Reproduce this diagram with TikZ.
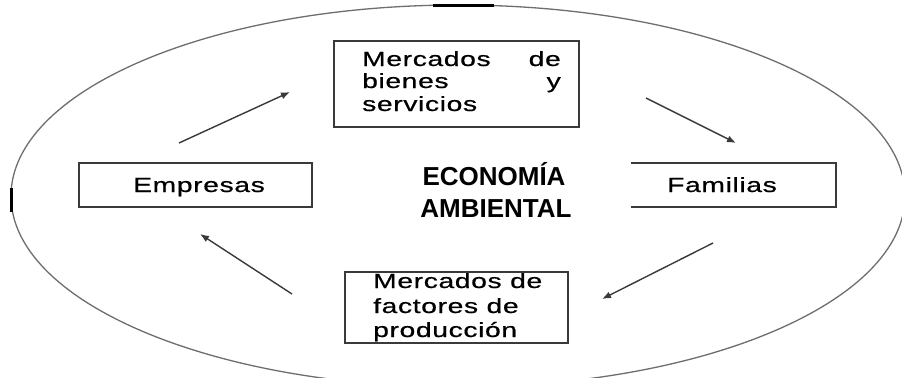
\documentclass[tikz,border=0pt]{standalone}
\usepackage{fontspec}
\setmainfont{Liberation Sans}
\newfontfamily\boxfont[FakeStretch=1.38,LetterSpace=3,FakeBold=0.6]{Liberation Sans}
\usetikzlibrary{arrows.meta}
\definecolor{linegray}{HTML}{3A3A3A}
\definecolor{ellgray}{HTML}{6E6E6E}
\tikzset{
  boxshape/.style={draw=linegray, line width=1.5bp, rectangle, inner sep=0pt},
  lbl/.style={font=\boxfont\fontsize{20.5bp}{23bp}\selectfont, inner sep=0pt, anchor=base west},
  flow/.style={draw=linegray, line width=1.4bp, -{Latex[length=9bp,width=7bp]}},
  title/.style={font=\bfseries\fontsize{26bp}{32bp}\selectfont, inner sep=0pt, anchor=base},
}
\begin{document}
\begin{tikzpicture}[x=1bp,y=-1bp]
\useasboundingbox (0,0) rectangle (902,377);
\fill[white] (0,0) rectangle (902,377);
% ellipse
\draw[ellgray, line width=1.3bp] (458,196) ellipse [x radius=447, y radius=191];
\draw[black, line width=2.6bp] (433,5.2) -- (494,5.2);
\draw[black, line width=2.6bp] (11.2,188) -- (11.2,212);
% boxes
\node[boxshape, minimum width=245bp, minimum height=86bp] (topbox) at (456.5,84) {};
\node[boxshape, minimum width=233bp, minimum height=44bp] (empbox) at (195.5,185) {};
\coordinate (famTL) at (631,163);
\coordinate (famTR) at (836,163);
\coordinate (famBR) at (836,207);
\coordinate (famBL) at (631,207);
\draw[linegray, line width=1.5bp] (famTL) -- (famTR) -- (famBR) -- (famBL);
\node[boxshape, minimum width=223bp, minimum height=71bp] (botbox) at (456.5,307.5) {};
% texts
\node[lbl] (t1a) at (362,66) {Mercados};
\node[lbl, anchor=base east] (t1b) at (561,66) {de};
\node[lbl] (t2a) at (362,88) {bienes};
\node[lbl, anchor=base east] (t2b) at (561,88) {y};
\node[lbl] (t3a) at (362,111) {servicios};
\node[lbl] (emp) at (133,192) {Empresas};
\node[lbl] (fam) at (667,192) {Familias};
\node[lbl] (b1) at (373,288) {Mercados de};
\node[lbl] (b2) at (373,313) {factores de};
\node[lbl] (b3) at (373,337) {producción};
\node[title] (ec1) at (494,185) {ECONOMÍA};
\node[title] (ec2) at (496,217) {AMBIENTAL};
% arrows
\coordinate (a1s) at (179,143);
\coordinate (a1e) at (290,92);
\coordinate (a2s) at (646,98);
\coordinate (a2e) at (736,143);
\coordinate (a3s) at (713,243);
\coordinate (a3e) at (602,299);
\coordinate (a4s) at (292,294);
\coordinate (a4e) at (200,234);
\draw[flow] (a1s) -- (a1e);
\draw[flow] (a2s) -- (a2e);
\draw[flow] (a3s) -- (a3e);
\draw[flow] (a4s) -- (a4e);
\end{tikzpicture}
\end{document}
